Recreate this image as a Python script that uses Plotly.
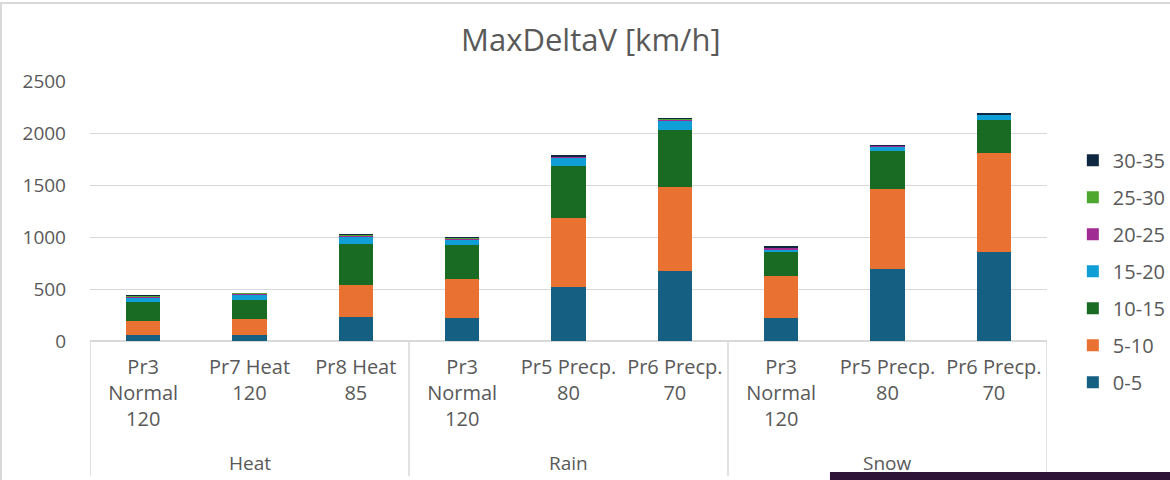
import plotly.graph_objects as go

# Weather groups and test runs on the category axis
groups = ["Heat", "Heat", "Heat", "Rain", "Rain", "Rain", "Snow", "Snow", "Snow"]
runs = ["Pr3<br>Normal<br>120", "Pr7 Heat<br>120", "Pr8 Heat<br>85",
        "Pr3<br>Normal<br>120", "Pr5 Precp.<br>80", "Pr6 Precp.<br>70",
        "Pr3<br>Normal<br>120", "Pr5 Precp.<br>80", "Pr6 Precp.<br>70"]

# Counts per MaxDeltaV band [km/h]
v_0_5 = [55, 58, 228, 219, 524, 675, 219, 691, 855]
v_5_10 = [142, 152, 312, 373, 656, 803, 408, 772, 952]
v_10_15 = [175, 186, 392, 331, 505, 554, 228, 363, 322]
v_15_20 = [42, 49, 71, 51, 77, 90, 29, 42, 45]
v_20_25 = [15, 10, 15, 14, 10, 12, 14, 8, 3]
v_25_30 = [10, 3, 4, 3, 5, 4, 4, 5, 2]
v_30_35 = [2, 0, 1, 1, 2, 2, 2, 3, 8]

bands = ["0-5", "5-10", "10-15", "15-20", "20-25", "25-30", "30-35"]
values = [v_0_5, v_5_10, v_10_15, v_15_20, v_20_25, v_25_30, v_30_35]
colors = ["#156082", "#E97132", "#196B24", "#0F9ED5", "#A02B93", "#4EA72E", "#0E2841"]

FONT = "Open Sans"
GREY = "#595959"
LINE = "#D9D9D9"

pos = list(range(len(runs)))

fig = go.Figure()
for k, (name, vals, col) in enumerate(zip(bands, values, colors)):
    fig.add_trace(go.Bar(
        x=pos, y=vals, name=name, legendgroup=name,
        legendrank=len(bands) - k,  # highest band listed first
        marker=dict(color=col, line=dict(width=0)),
    ))

# Outer category level: group names centred under their runs, dividers between groups
shapes = []
annotations = []
unique_groups = list(dict.fromkeys(groups))
for g in unique_groups:
    idx = [i for i, gg in enumerate(groups) if gg == g]
    annotations.append(dict(
        x=sum(idx) / len(idx), xref="x", y=-0.469, yref="paper",
        text=g, showarrow=False, yanchor="middle",
        font=dict(family=FONT, size=19, color=GREY)))
    shapes.append(dict(type="line", xref="x", yref="paper",
                       x0=idx[0] - 0.5, x1=idx[0] - 0.5, y0=0, y1=-0.52,
                       line=dict(color=LINE, width=1.5)))
shapes.append(dict(type="line", xref="x", yref="paper",
                   x0=len(runs) - 0.5, x1=len(runs) - 0.5, y0=0, y1=-0.52,
                   line=dict(color=LINE, width=1.5)))

# Chart frame edges and the dark strip along the lower right
shapes.append(dict(type="line", xref="paper", yref="paper",
                   x0=-0.094, x1=1.13, y0=1.3, y1=1.3,
                   line=dict(color=LINE, width=2)))
shapes.append(dict(type="line", xref="paper", yref="paper",
                   x0=-0.093, x1=-0.093, y0=1.3, y1=-0.54,
                   line=dict(color=LINE, width=2)))
shapes.append(dict(type="rect", xref="paper", yref="paper",
                   x0=0.7732, x1=1.13, y0=-0.54, y1=-0.5038,
                   fillcolor="#2E1437", line=dict(width=0)))

fig.update_layout(
    width=1170, height=480,
    barmode="stack", bargap=0.68,
    paper_bgcolor="white", plot_bgcolor="white",
    margin=dict(l=90, r=123, t=81, b=139, autoexpand=False),
    font=dict(family=FONT, size=19, color=GREY),
    title=dict(text="MaxDeltaV [km/h]", x=0.505, xanchor="center", xref="container",
               y=0.917, yanchor="middle", yref="container",
               font=dict(family=FONT, size=31, color=GREY)),
    legend=dict(x=1.027, xanchor="left", y=0.27, yanchor="middle",
                traceorder="grouped", tracegroupgap=8,
                font=dict(family=FONT, size=20, color=GREY)),
    showlegend=True,
    shapes=shapes,
    annotations=annotations,
)
fig.update_yaxes(range=[0, 2500], dtick=500, showgrid=True,
                 gridcolor=LINE, gridwidth=1, zeroline=True,
                 zerolinecolor=LINE, ticks="", ticklabelstandoff=23,
                 tickfont=dict(size=19, color=GREY))
fig.update_xaxes(range=[-0.5, len(runs) - 0.5], tickvals=pos, ticktext=runs,
                 showgrid=False, zeroline=False, showline=False, ticks="",
                 ticklabelstandoff=12,
                 tickfont=dict(size=20, color=GREY))

fig.write_html("out.html")
